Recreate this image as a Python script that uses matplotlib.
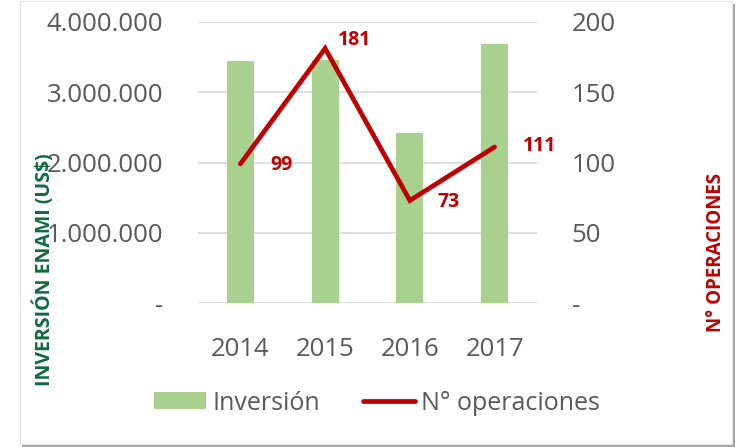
import matplotlib.pyplot as plt
from matplotlib.patches import Rectangle
from matplotlib.lines import Line2D
from matplotlib.ticker import FuncFormatter

# data
years = ['2014', '2015', '2016', '2017']
inversion = [3440000, 3450000, 2420000, 3690000]   # US$
operaciones = [99, 181, 73, 111]

GREEN = '#A9D18E'
RED = '#C00000'
DARKGREEN = '#0E6B3B'
GREY = '#595959'

plt.rcParams['font.family'] = ['Open Sans', 'DejaVu Sans']

W, H = 743, 447
fig = plt.figure(figsize=(W / 100, H / 100), dpi=100)

# chart frame with a light shadow, like the office chart
fig.patches.append(Rectangle((22 / W, 0.5 / H), 713 / W, 443 / H, transform=fig.transFigure,
                             facecolor='#A6A6A6', edgecolor='none', zorder=-3))
fig.patches.append(Rectangle((20 / W, 3 / H), 712 / W, 443 / H, transform=fig.transFigure,
                             facecolor='white', edgecolor='#E3E3E3', lw=0.8, zorder=-2))

ax = fig.add_axes([198 / W, 1 - 303.3 / H, 339 / W, 281.6 / H])
ax.patch.set_alpha(0)
x = range(len(years))
ax.bar(x, inversion, width=0.32, color=GREEN, zorder=2)
ax.set_ylim(0, 4000000)
ax.set_xlim(-0.5, len(years) - 0.5)
ax.set_yticks(range(0, 4000001, 1000000))
ax.yaxis.set_major_formatter(FuncFormatter(
    lambda v, p: '-' if v == 0 else f'{int(v):,}'.replace(',', '.')))
ax.set_xticks(list(x))
ax.set_xticklabels(years)
ax.grid(axis='y', color='#D9D9D9', lw=1.2, zorder=0)
for s in ax.spines.values():
    s.set_visible(False)
ax.tick_params(length=0, labelsize=18.5, labelcolor=GREY)
ax.tick_params(axis='y', pad=25)
ax.tick_params(axis='x', pad=24)

ax2 = ax.twinx()
ax2.plot(x, operaciones, color=RED, lw=3.4, solid_capstyle='round',
         solid_joinstyle='miter', zorder=3)
ax2.set_ylim(0, 200)
ax2.set_yticks(range(0, 201, 50))
ax2.yaxis.set_major_formatter(FuncFormatter(lambda v, p: '-' if v == 0 else f'{int(v)}'))
for s in ax2.spines.values():
    s.set_visible(False)
ax2.tick_params(length=0, labelsize=18.5, labelcolor=GREY, pad=25)

# data labels (offsets in pixels)
offsets = [(30, -1), (13, 8), (28, -1), (28, 1)]
for i, (v, off) in enumerate(zip(operaciones, offsets)):
    ax2.annotate(str(v), (i, v), xytext=off, textcoords='offset pixels',
                 ha='left', va='center', color=RED, fontsize=14, fontweight='bold')

fig.text(44 / W, 1 - 270 / H, 'INVERSIÓN ENAMI (US$)', rotation=90, ha='center', va='center',
         color=DARKGREEN, fontsize=14, fontweight='bold')
fig.text(716 / W, 1 - 252 / H, 'N° OPERACIONES', rotation=90, ha='center', va='center',
         color=RED, fontsize=13.5, fontweight='bold')

handles = [Rectangle((0, 0), 1, 1, facecolor=GREEN, edgecolor='none'),
           Line2D([0], [0], color=RED, lw=3.4, solid_capstyle='round')]
fig.legend(handles, ['Inversión', 'N° operaciones'], loc='center',
           bbox_to_anchor=(377 / W, 1 - 403 / H), ncol=2, frameon=False,
           fontsize=18, labelcolor=GREY, handlelength=2.1, handleheight=0.65,
           handletextpad=0.25, columnspacing=1.7)

fig.savefig('out.png', dpi=100)
